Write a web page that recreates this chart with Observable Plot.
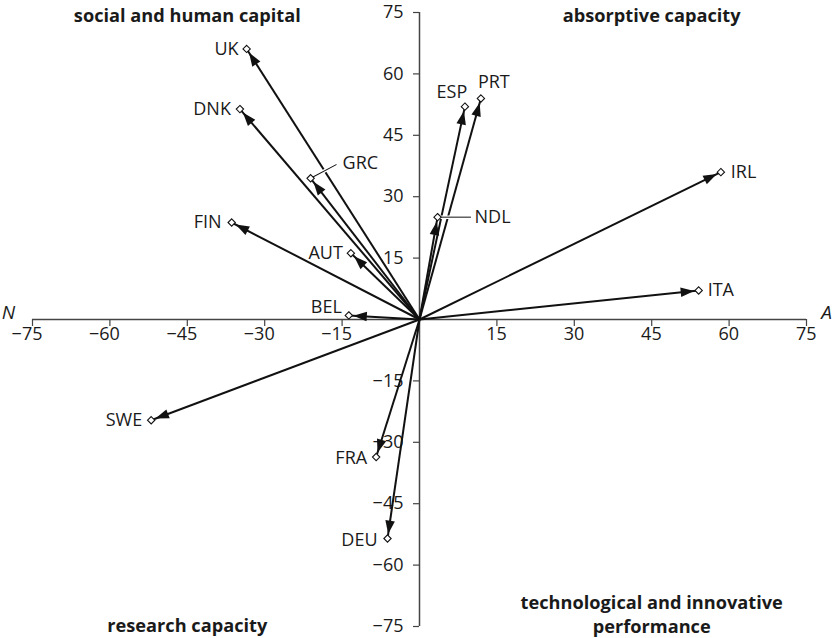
<!DOCTYPE html>
<html><head><meta charset="utf-8">
<script src="https://cdn.jsdelivr.net/npm/d3@7"></script>
<script src="https://cdn.jsdelivr.net/npm/@observablehq/plot@0.6"></script>
<style>body{margin:0;background:#fff} svg{display:block}</style>
</head><body><div id="chart"></div>
<script>
// ---- data ----
const countries = ["UK","DNK","GRC","FIN","AUT","BEL","ESP","PRT","IRL","NDL","ITA","SWE","FRA","DEU"];
const xValues   = [-33.5,-34.8,-21.1,-36.4,-13.3,-13.7, 8.8, 11.9, 58.4, 3.5, 54.1,-52.0,-8.4,-6.2];
const yValues   = [ 66.1, 51.4, 34.5, 23.7, 16.2,  1.0,52.0, 54.0, 36.0,25.0,  7.1,-24.6,-33.6,-53.5];
const tickValues = [-75,-60,-45,-30,-15,15,30,45,60,75];
const tickLabels = ["\u221275","\u221260","\u221245","\u221230","\u221215","15","30","45","60","75"];
const quadrantTitles = ["social and human capital","absorptive capacity","research capacity","technological and innovative\nperformance"];
const quadrantX = [-45,45,-45,45];
const quadrantY = [75,75,-75,-75];
const axisNames = ["N","A"];
const axisNameX = [-75,75];

// ---- layout (label placement, not data) ----
const labelPlacement = {
  UK:  {anchor:"end", dx:-8, dy:0},
  DNK: {anchor:"end", dx:-9, dy:0},
  GRC: {anchor:"start", dx:32, dy:-15, leader:{len:29, angle:62}},
  FIN: {anchor:"end", dx:-10, dy:0},
  AUT: {anchor:"end", dx:-8, dy:0},
  BEL: {anchor:"end", dx:-7, dy:-8},
  ESP: {anchor:"middle", dx:-13, dy:-14},
  PRT: {anchor:"start", dx:-3, dy:-16},
  IRL: {anchor:"start", dx:10, dy:0},
  NDL: {anchor:"start", dx:37, dy:0, leader:{len:33, angle:90}},
  ITA: {anchor:"start", dx:9, dy:0},
  SWE: {anchor:"end", dx:-9, dy:0},
  FRA: {anchor:"end", dx:-9, dy:1},
  DEU: {anchor:"end", dx:-10, dy:2}
};
const titleDy = [2, 2, -2, -13];
const axisNameDx = [-24, 20];

const rows = countries.map((c, i) => ({country: c, x: xValues[i], y: yValues[i]}));

const FONT = "'Open Sans', sans-serif";
const ink = "#1a1a1a";

function arrowHead(color, context) {
  const m = d3.create("svg:marker")
    .attr("viewBox", "-20 -6 20 12")
    .attr("markerWidth", 20).attr("markerHeight", 12)
    .attr("markerUnits", "userSpaceOnUse")
    .attr("orient", "auto")
    .attr("refX", 0).attr("refY", 0)
    .attr("overflow", "visible");
  m.append("path").attr("d", "M-18,-4.8L-4.5,0L-18,4.8Z").attr("fill", color).attr("stroke", "none");
  return m.node();
}

const leaderShape = {draw(context, l) { context.moveTo(0, 0); context.lineTo(0, -l); }};

const marks = [
  // axes
  Plot.ruleY([0], {x1: -75, x2: 75, stroke: "#444", strokeWidth: 1.5}),
  Plot.ruleX([0], {y1: -75, y2: 75, stroke: "#444", strokeWidth: 1.5}),
  Plot.ruleX(tickValues, {x: d => d, y1: 0, y2: 0, insetBottom: -7, stroke: "#444", strokeWidth: 1.2}),
  Plot.ruleY(tickValues, {y: d => d, x1: 0, x2: 0, insetLeft: -6, stroke: "#444", strokeWidth: 1.2}),
  Plot.text(tickValues, {x: d => d, y: 0, text: (d, i) => tickLabels[i], textAnchor: "end", dx: 10, dy: 15, fontSize: 18, fill: ink}),
  Plot.text(tickValues, {x: 0, y: d => d, text: (d, i) => tickLabels[i], textAnchor: "end", dx: -16, fontSize: 18, fill: ink}),
  // arrows
  Plot.link(rows, {x1: 0, y1: 0, x2: "x", y2: "y", stroke: "#111", strokeWidth: 2, markerEnd: arrowHead}),
];

// leader lines
for (const r of rows) {
  const p = labelPlacement[r.country];
  if (p.leader) {
    marks.push(Plot.vector([r], {x: "x", y: "y", length: p.leader.len, rotate: p.leader.angle, anchor: "start", shape: leaderShape, stroke: "white", strokeWidth: 3.5}));
    marks.push(Plot.vector([r], {x: "x", y: "y", length: p.leader.len, rotate: p.leader.angle, anchor: "start", shape: leaderShape, stroke: "#111", strokeWidth: 1}));
  }
}

marks.push(Plot.dot(rows, {x: "x", y: "y", symbol: "diamond2", r: 3.3, stroke: "#111", strokeWidth: 1.1, fill: "white"}));

for (const r of rows) {
  const p = labelPlacement[r.country];
  marks.push(Plot.text([r], {x: "x", y: "y", text: "country", textAnchor: p.anchor, dx: p.dx, dy: p.dy, fontSize: 18, fill: ink}));
}

quadrantTitles.forEach((t, i) => {
  marks.push(Plot.text([t], {x: quadrantX[i], y: quadrantY[i], text: d => d, dy: titleDy[i], fontSize: 18.2, fontWeight: "bold", lineHeight: 1.3, fill: ink}));
});

axisNames.forEach((n, i) => {
  marks.push(Plot.text([n], {x: axisNameX[i], y: 0, text: d => d, dx: axisNameDx[i], dy: -7, fontSize: 19, fontStyle: "italic", fill: ink, textAnchor: "middle"}));
});

const chart = Plot.plot({
  width: 833,
  height: 638,
  marginLeft: 32,
  marginRight: 27,
  marginTop: 12,
  marginBottom: 12,
  style: {fontFamily: FONT, background: "white", overflow: "visible"},
  x: {domain: [-75, 75], axis: null},
  y: {domain: [-75, 75], axis: null},
  marks
});
document.getElementById("chart").appendChild(chart);
</script>
</body></html>
